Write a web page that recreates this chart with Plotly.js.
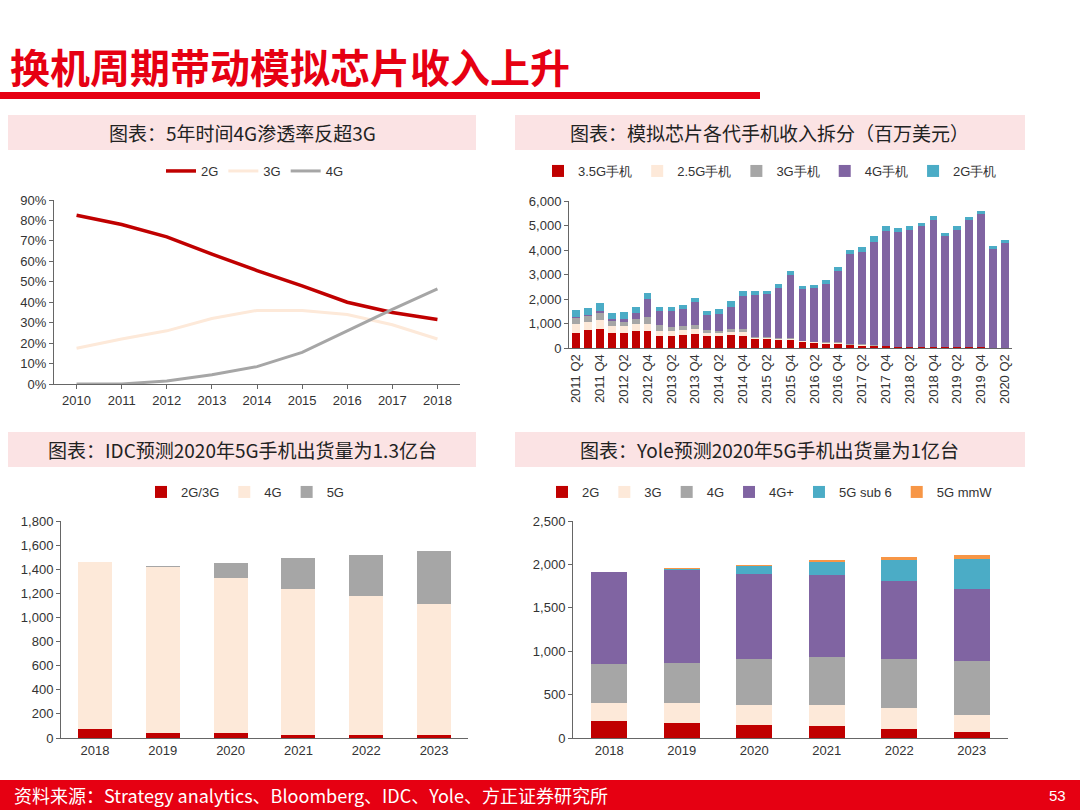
<!DOCTYPE html>
<html>
<head>
<meta charset="utf-8">
<script src="https://cdn.plot.ly/plotly-3.0.1.min.js"></script>
<style>body{margin:0;background:#fff}#chart{width:1080px;height:810px}</style>
</head>
<body>
<div id="chart"></div>
<script>
// chart 1: penetration (%)
const years1 = ["2010","2011","2012","2013","2014","2015","2016","2017","2018"];
const pen2G = [82.5, 78, 72, 63.5, 55.5, 48, 40, 35, 31.5];
const pen3G = [17.5, 22, 26, 32, 36, 36, 34, 29, 22];
const pen4G = [0, 0, 1.5, 4.5, 8.5, 15.5, 26, 36.5, 46.5];

// chart 2: analog chip revenue by handset generation (USD mn)
const quarters = [];
for (let y = 2011; y <= 2020; y++) for (let q = 1; q <= 4; q++) quarters.push(y + " Q" + q);
const quarterCats = quarters.slice(1, 38);
const rev35G = [630,720,780,620,600,680,700,500,480,540,560,470,470,520,500,350,350,320,320,230,200,170,160,110,100,80,80,50,50,50,50,30,30,30,30,20,20];
const rev25G = [350,340,370,280,280,300,300,200,200,180,200,150,130,120,140,70,50,60,60,40,40,40,40,30,30,20,0,0,0,0,0,0,0,0,0,0,0];
const rev3G = [240,230,270,200,200,190,250,220,190,160,160,120,100,120,140,40,40,40,40,20,20,20,30,20,20,20,0,0,0,0,0,0,0,0,0,0,0];
const rev4G = [40,50,80,80,120,260,760,600,640,700,950,610,700,910,1350,1690,1760,2030,2550,2110,2170,2380,2900,3690,3780,4220,4690,4670,4780,4910,5170,4540,4800,5190,5420,4040,4250];
const rev2G = [290,310,330,250,250,230,250,160,170,160,160,170,180,230,210,160,140,150,180,140,150,170,170,170,210,220,190,170,150,150,180,130,140,130,150,100,130];
const quarterTicks = quarterCats.filter((_, i) => i % 2 === 0);

// chart 3: IDC shipments
const years3 = ["2018","2019","2020","2021","2022","2023"];
const idc23G = [75, 45, 40, 28, 28, 22];
const idc4G = [1385, 1375, 1285, 1212, 1147, 1088];
const idc5G = [0, 10, 130, 250, 345, 445];

// chart 4: Yole shipments
const yole2G = [200, 175, 155, 135, 100, 65];
const yole3G = [200, 225, 230, 240, 245, 205];
const yole4G = [455, 465, 525, 560, 565, 615];
const yole4Gp = [1060, 1065, 980, 945, 895, 835];
const yoleSub6 = [0, 15, 95, 150, 250, 340];
const yoleMmw = [0, 10, 5, 15, 35, 50];

const RED = "#c00000", PEACH = "#fde9d9", GRAY = "#a6a6a6", PURPLE = "#8064a2", CYAN = "#4bacc6", ORANGE = "#f79646";
const tickFont = {family: "Liberation Sans, Arial", size: 13, color: "#333"};

function bar(x, y, name, color, xa, ya, legend, width) {
  return {type: "bar", x, y, name, marker: {color, line: {width: 0}}, xaxis: xa, yaxis: ya, legend, width};
}

const data = [
  {type: "scatter", mode: "lines", x: years1, y: pen2G, name: "2G", line: {color: RED, width: 3.5}, xaxis: "x", yaxis: "y", legend: "legend"},
  {type: "scatter", mode: "lines", x: years1, y: pen3G, name: "3G", line: {color: PEACH, width: 3}, xaxis: "x", yaxis: "y", legend: "legend"},
  {type: "scatter", mode: "lines", x: years1, y: pen4G, name: "4G", line: {color: GRAY, width: 3}, xaxis: "x", yaxis: "y", legend: "legend"},
  bar(quarterCats, rev35G, "3.5G手机", RED, "x2", "y2", "legend2", 0.65),
  bar(quarterCats, rev25G, "2.5G手机", PEACH, "x2", "y2", "legend2", 0.65),
  bar(quarterCats, rev3G, "3G手机", GRAY, "x2", "y2", "legend2", 0.65),
  bar(quarterCats, rev4G, "4G手机", PURPLE, "x2", "y2", "legend2", 0.65),
  bar(quarterCats, rev2G, "2G手机", CYAN, "x2", "y2", "legend2", 0.65),
  bar(years3, idc23G, "2G/3G", RED, "x3", "y3", "legend3", 0.5),
  bar(years3, idc4G, "4G", PEACH, "x3", "y3", "legend3", 0.5),
  bar(years3, idc5G, "5G", GRAY, "x3", "y3", "legend3", 0.5),
  bar(years3, yole2G, "2G", RED, "x4", "y4", "legend4", 0.5),
  bar(years3, yole3G, "3G", PEACH, "x4", "y4", "legend4", 0.5),
  bar(years3, yole4G, "4G", GRAY, "x4", "y4", "legend4", 0.5),
  bar(years3, yole4Gp, "4G+", PURPLE, "x4", "y4", "legend4", 0.5),
  bar(years3, yoleSub6, "5G sub 6", CYAN, "x4", "y4", "legend4", 0.5),
  bar(years3, yoleMmw, "5G mmW", ORANGE, "x4", "y4", "legend4", 0.5)
];

const axBase = {showgrid: false, zeroline: false, showline: true, linecolor: "#666", linewidth: 1, tickfont: tickFont, ticks: "outside", ticklen: 4, tickcolor: "#666", fixedrange: true};
const py = p => 1 - p / 810, px = p => p / 1080;
const legBase = {orientation: "h", traceorder: "normal", xanchor: "center", yanchor: "middle", font: {family: "Liberation Sans, Arial", size: 13, color: "#333"}, bgcolor: "rgba(0,0,0,0)", itemwidth: 30, tracegroupgap: 0};

const panels = [
  {x0: 8, x1: 476, y0: 115, y1: 150, text: "图表：5年时间4G渗透率反超3G"},
  {x0: 515, x1: 1025, y0: 115, y1: 150, text: "图表：模拟芯片各代手机收入拆分（百万美元）"},
  {x0: 8, x1: 476, y0: 432, y1: 467, text: "图表：IDC预测2020年5G手机出货量为1.3亿台"},
  {x0: 515, x1: 1025, y0: 432, y1: 467, text: "图表：Yole预测2020年5G手机出货量为1亿台"}
];
const shapes = [
  {type: "rect", xref: "paper", yref: "paper", x0: 0, x1: px(760), y0: py(99), y1: py(92), fillcolor: "#e60012", line: {width: 0}},
  {type: "rect", xref: "paper", yref: "paper", x0: 0, x1: 1, y0: 0, y1: py(780), fillcolor: "#e60012", line: {width: 0}}
];
const annotations = [
  {xref: "paper", yref: "paper", x: px(8), y: py(66), xanchor: "left", yanchor: "middle", showarrow: false, text: "<b>换机周期带动模拟芯片收入上升</b>", font: {family: "Noto Sans CJK SC", size: 40, color: "#e60012"}},
  {xref: "paper", yref: "paper", x: px(12), y: py(795), xanchor: "left", yanchor: "middle", showarrow: false, text: "资料来源：Strategy analytics、Bloomberg、IDC、Yole、方正证券研究所", font: {family: "Noto Sans CJK SC", size: 18, color: "#fff"}},
  {xref: "paper", yref: "paper", x: px(1068), y: py(795), xanchor: "right", yanchor: "middle", showarrow: false, text: "53", font: {family: "Liberation Sans, Arial", size: 15, color: "#fff"}}
];
panels.forEach(p => {
  shapes.push({type: "rect", xref: "paper", yref: "paper", x0: px(p.x0), x1: px(p.x1), y0: py(p.y1), y1: py(p.y0), fillcolor: "#fbe3e4", line: {width: 0}});
  annotations.push({xref: "paper", yref: "paper", x: px((p.x0 + p.x1) / 2), y: py((p.y0 + p.y1) / 2), xanchor: "center", yanchor: "middle", showarrow: false, text: p.text, font: {family: "Noto Sans CJK SC", size: 19, color: "#222"}});
});

const layout = {
  width: 1080, height: 810, margin: {l: 0, r: 0, t: 0, b: 0},
  paper_bgcolor: "#fff", plot_bgcolor: "rgba(0,0,0,0)", barmode: "stack",
  shapes, annotations,
  xaxis: {...axBase, domain: [px(54), px(460)], type: "category", range: [-0.5, 8.5]},
  yaxis: {...axBase, domain: [py(384), py(200)], range: [0, 90], dtick: 10, ticksuffix: "%", anchor: "x"},
  xaxis2: {...axBase, domain: [px(569), px(1012)], type: "category", range: [-0.6, 36.6], tickvals: quarterTicks, ticktext: quarterTicks, tickangle: -90, anchor: "y2", ticks: ""},
  yaxis2: {...axBase, domain: [py(348), py(201)], range: [0, 6000], dtick: 1000, tickformat: ",d", anchor: "x2"},
  xaxis3: {...axBase, domain: [px(61), px(468)], type: "category", anchor: "y3", ticks: ""},
  yaxis3: {...axBase, domain: [py(738), py(521)], range: [0, 1800], dtick: 200, tickformat: ",d", anchor: "x3"},
  xaxis4: {...axBase, domain: [px(573), px(1008)], type: "category", anchor: "y4", ticks: ""},
  yaxis4: {...axBase, domain: [py(738), py(521)], range: [0, 2500], dtick: 500, tickformat: ",d", anchor: "x4"},
  legend: {...legBase, x: px(255), y: py(171)},
  legend2: {...legBase, x: px(770), y: py(171)},
  legend3: {...legBase, x: px(245), y: py(492)},
  legend4: {...legBase, x: px(770), y: py(492)}
};

Plotly.newPlot("chart", data, layout, {staticPlot: true});
</script>
</body>
</html>
